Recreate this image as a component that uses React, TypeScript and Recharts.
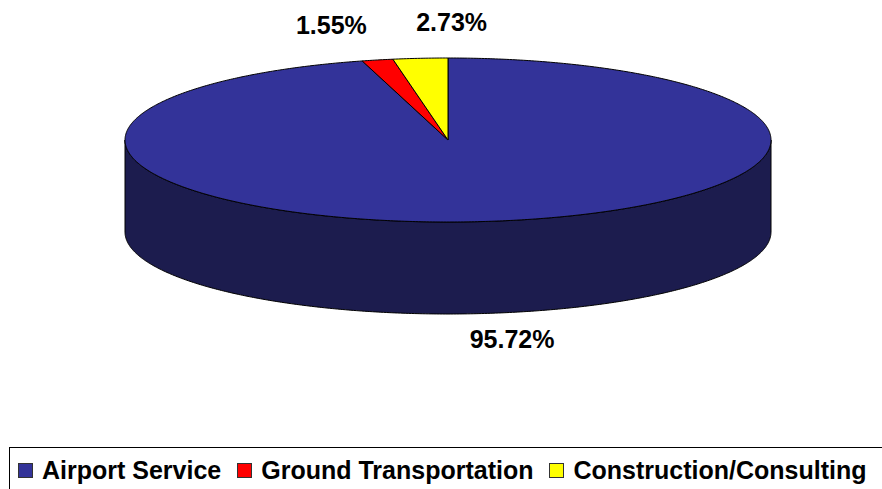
import { PieChart, Pie, Cell, Legend } from 'recharts'

const CATEGORIES = ['Airport Service', 'Ground Transportation', 'Construction/Consulting']
const SHARES = [95.72, 1.55, 2.73]
const TOP_COLORS = ['#333399', '#FF0000', '#FFFF00']
const SIDE_COLORS = ['#1C1C4E', '#8C0000', '#8C8C00']

const FONT = '"Liberation Sans", Arial, Helvetica, sans-serif'

// top ellipse squash and wall height of the 3-D slab
const RX = 323
const RY = 82
const DEPTH = 92

const rad = (d: number) => (d * Math.PI) / 180

function arcPoints(cx: number, cy: number, a0: number, a1: number) {
  const n = Math.max(2, Math.ceil(Math.abs(a1 - a0) * 2))
  const pts: string[] = []
  for (let i = 0; i <= n; i++) {
    const a = a0 + ((a1 - a0) * i) / n
    pts.push(`${(cx + RX * Math.cos(rad(a))).toFixed(2)},${(cy - RY * Math.sin(rad(a))).toFixed(2)}`)
  }
  return pts
}

function SlabSector(props: any) {
  const { cx, cy, startAngle, endAngle, fill, payload } = props
  const side = payload?.side ?? fill
  const lo = Math.min(startAngle, endAngle)
  const hi = Math.max(startAngle, endAngle)

  // front-facing part of the rim gets a wall
  const walls: string[] = []
  for (const k of [-360, 0, 360]) {
    const a = Math.max(lo, -180 + k)
    const b = Math.min(hi, k)
    if (b > a) {
      const top = arcPoints(cx, cy, a, b)
      const bottom = arcPoints(cx, cy + DEPTH, b, a)
      walls.push(`M${top.join(' L')} L${bottom.join(' L')} Z`)
    }
  }

  const face = `M${cx},${cy} L${arcPoints(cx, cy, startAngle, endAngle).join(' L')} Z`

  return (
    <g>
      {walls.map((d, i) => (
        <path key={i} d={d} fill={side} stroke="#000" strokeWidth={1} strokeLinejoin="round" />
      ))}
      <path d={face} fill={fill} stroke="#000" strokeWidth={1} strokeLinejoin="round" />
    </g>
  )
}

const LABEL_ANCHOR: Record<string, 'start' | 'middle' | 'end'> = {
  'Airport Service': 'middle',
  'Ground Transportation': 'end',
  'Construction/Consulting': 'start',
}

function renderLabel(props: any) {
  const { cx, cy, midAngle, value, name } = props
  const c = Math.cos(rad(midAngle))
  const s = Math.sin(rad(midAngle))
  const front = s < 0
  const x = cx + RX * c * (front ? 1.48 : 1.15)
  const y = cy - (RY + (front ? 26 : 36)) * s + (front ? DEPTH : 0)
  return (
    <text
      x={x}
      y={y}
      textAnchor={LABEL_ANCHOR[name] ?? 'middle'}
      dominantBaseline="central"
      fontFamily={FONT}
      fontWeight="bold"
      fontSize={25}
      fill="#000"
    >
      {`${Number(value).toFixed(2)}%`}
    </text>
  )
}

function LegendBox({ payload }: any) {
  const items = (payload ?? [])
    .map((p: any) => ({ label: p.value, color: p.color }))
    .sort((a: any, b: any) => CATEGORIES.indexOf(a.label) - CATEGORIES.indexOf(b.label))
  return (
    <div
      style={{
        display: 'flex',
        alignItems: 'center',
        gap: 16,
        height: 45,
        paddingLeft: 8,
        borderTop: '1px solid #000',
        borderLeft: '1px solid #000',
        boxSizing: 'border-box',
        fontFamily: FONT,
        fontWeight: 'bold',
        fontSize: 25,
        color: '#000',
        whiteSpace: 'nowrap',
      }}
    >
      {items.map((it: any) => (
        <div key={it.label} style={{ display: 'flex', alignItems: 'center', gap: 9 }}>
          <span
            style={{
              width: 13,
              height: 13,
              background: it.color,
              border: '1px solid #333',
              display: 'inline-block',
            }}
          />
          <span>{it.label}</span>
        </div>
      ))}
    </div>
  )
}

const rows = CATEGORIES.map((name, i) => ({ name, value: SHARES[i], side: SIDE_COLORS[i] }))

export default function App() {
  return (
    <div style={{ position: 'absolute', left: 0, top: 0, width: 882, height: 489, overflow: 'hidden', background: '#fff' }}>
      <PieChart width={882} height={489} margin={{ top: 0, right: 0, bottom: 0, left: 0 }}>
        <Pie
          data={rows}
          dataKey="value"
          nameKey="name"
          cx={448}
          cy={140}
          outerRadius={RX}
          startAngle={90}
          endAngle={-270}
          shape={SlabSector}
          label={renderLabel}
          labelLine={false}
          isAnimationActive={false}
        >
          {rows.map((r, i) => (
            <Cell key={r.name} fill={TOP_COLORS[i]} />
          ))}
        </Pie>
        <Legend
          content={LegendBox}
          wrapperStyle={{ position: 'absolute', left: 9, top: 447, width: 900, height: 60, bottom: 'auto' }}
        />
      </PieChart>
    </div>
  )
}
